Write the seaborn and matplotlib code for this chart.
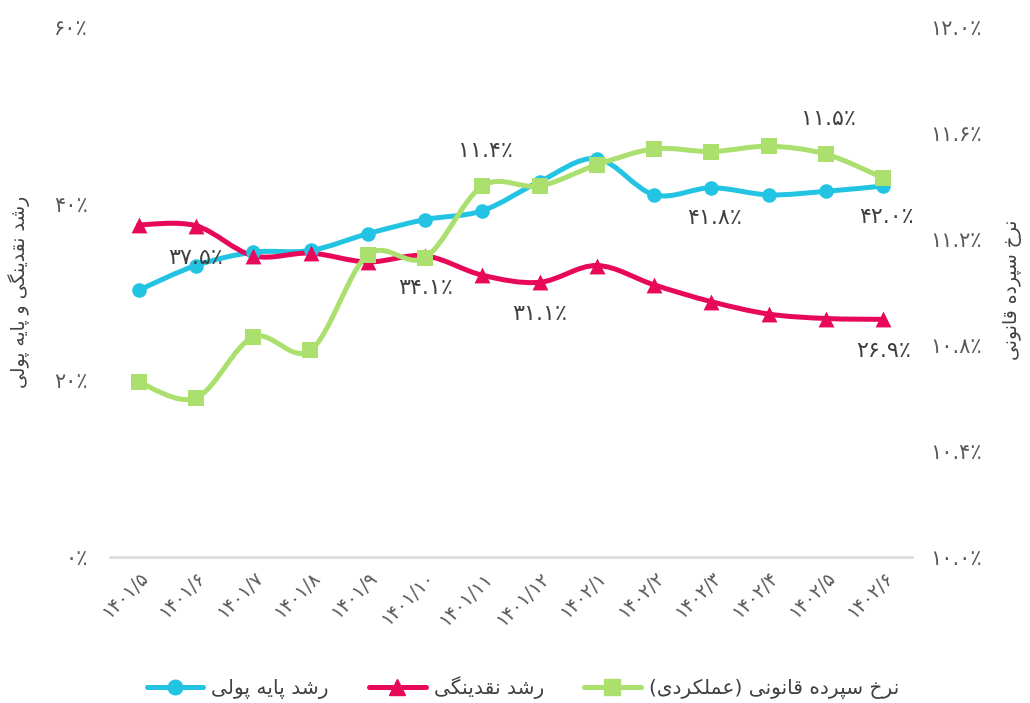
import numpy as np
import matplotlib
matplotlib.use("Agg")
import matplotlib.pyplot as plt
import seaborn as sns
from matplotlib.path import Path
from matplotlib.patches import PathPatch
from matplotlib.lines import Line2D

# data
months = ["1401/5", "1401/6", "1401/7", "1401/8", "1401/9", "1401/10", "1401/11",
          "1401/12", "1402/1", "1402/2", "1402/3", "1402/4", "1402/5", "1402/6"]
base_money = [30.2, 33.0, 34.5, 34.7, 36.6, 38.2, 39.2, 42.5, 45.1, 41.0, 41.8, 41.0, 41.4, 42.0]
liquidity = [37.6, 37.5, 34.1, 34.4, 33.4, 34.1, 31.9, 31.1, 33.0, 30.8, 28.9, 27.5, 27.0, 26.9]
reserve_rate = [10.66, 10.60, 10.83, 10.78, 11.14, 11.13, 11.40, 11.40, 11.48, 11.54, 11.53, 11.55, 11.52, 11.43]

# which points carry a data label
base_labels = [10, 13]
liq_labels = [1, 5, 7, 13]
reserve_labels = [6, 12]

name_base = "رشد پایه پولی"
name_liq = "رشد نقدینگی"
name_reserve = "نرخ سپرده قانونی (عملکردی)"
ylabel_left = "رشد نقدینگی و پایه پولی"
ylabel_right = "نرخ سپرده قانونی"

c_base = "#23C4E3"
c_liq = "#E8085A"
c_reserve = "#ABE06E"
text_c = "#404040"

# minimal persian shaping (matplotlib has no arabic text shaping)
FORMS = {
    "ا": ("\uFE8D", "\uFE8E", None, None),
    "د": ("\uFEA9", "\uFEAA", None, None),
    "ر": ("\uFEAD", "\uFEAE", None, None),
    "و": ("\uFEED", "\uFEEE", None, None),
    "پ": ("\uFB56", "\uFB57", "\uFB58", "\uFB59"),
    "خ": ("\uFEA5", "\uFEA6", "\uFEA7", "\uFEA8"),
    "س": ("\uFEB1", "\uFEB2", "\uFEB3", "\uFEB4"),
    "ش": ("\uFEB5", "\uFEB6", "\uFEB7", "\uFEB8"),
    "ع": ("\uFEC9", "\uFECA", "\uFECB", "\uFECC"),
    "ق": ("\uFED5", "\uFED6", "\uFED7", "\uFED8"),
    "ک": ("\uFB8E", "\uFB8F", "\uFB90", "\uFB91"),
    "گ": ("\uFB92", "\uFB93", "\uFB94", "\uFB95"),
    "ل": ("\uFEDD", "\uFEDE", "\uFEDF", "\uFEE0"),
    "م": ("\uFEE1", "\uFEE2", "\uFEE3", "\uFEE4"),
    "ن": ("\uFEE5", "\uFEE6", "\uFEE7", "\uFEE8"),
    "ه": ("\uFEE9", "\uFEEA", "\uFEEB", "\uFEEC"),
    "ی": ("\uFBFC", "\uFBFD", "\uFBFE", "\uFBFF"),
}


def fa(text):
    out = []
    for i, ch in enumerate(text):
        if ch not in FORMS:
            out.append(ch)
            continue
        prev = text[i - 1] if i > 0 else None
        nxt = text[i + 1] if i < len(text) - 1 else None
        join_prev = prev in FORMS and FORMS[prev][2] is not None
        join_next = nxt in FORMS and FORMS[ch][2] is not None
        iso, fin, ini, med = FORMS[ch]
        if join_prev and join_next:
            out.append(med)
        elif join_prev:
            out.append(fin)
        elif join_next:
            out.append(ini)
        else:
            out.append(iso)
    s = "".join(out)[::-1]
    return s.translate(str.maketrans("()", ")("))


DIGITS = str.maketrans("0123456789%", "۰۱۲۳۴۵۶۷۸۹٪")


def fa_num(s):
    return s.translate(DIGITS)


def smooth_path(x, y):
    pts = np.column_stack([x, y]).astype(float)
    n = len(pts)
    verts = [pts[0]]
    codes = [Path.MOVETO]
    for i in range(n - 1):
        p0 = pts[max(i - 1, 0)]
        p1 = pts[i]
        p2 = pts[i + 1]
        p3 = pts[min(i + 2, n - 1)]
        verts += [p1 + (p2 - p0) / 6, p2 - (p3 - p1) / 6, p2]
        codes += [Path.CURVE4] * 3
    return Path(verts, codes)


sns.set_style("white")
plt.rcParams["font.family"] = ["DejaVu Sans"]

fig = plt.figure(figsize=(10.3, 7.03), dpi=100)
ax = fig.add_axes([110 / 1030, 1 - 557 / 703, 802 / 1030, 530 / 703])
ax2 = ax.twinx()

idx = np.arange(len(months))
lw = 3.6

for vals, color, mk, sz, axis in [
    (base_money, c_base, "o", 110, ax),
    (liquidity, c_liq, "^", 130, ax),
    (reserve_rate, c_reserve, "s", 120, ax2),
]:
    axis.add_patch(PathPatch(smooth_path(idx, vals), facecolor="none", edgecolor=color,
                             lw=lw, capstyle="round", joinstyle="round", zorder=2))
    sns.scatterplot(x=idx, y=vals, ax=axis, marker=mk, s=sz, color=color,
                    linewidth=0, zorder=3, legend=False)

ax.set_xlim(-0.5, len(months) - 0.5)
ax.set_ylim(0, 60)
ax.set_yticks([0, 20, 40, 60])
ax.set_yticklabels([fa_num(f"{v}%") for v in [0, 20, 40, 60]])
ax2.set_ylim(10, 12)
rt = [10.0, 10.4, 10.8, 11.2, 11.6, 12.0]
ax2.set_yticks(rt)
ax2.set_yticklabels([fa_num(f"{v:.1f}%") for v in rt])

ax.set_xticks(idx)
ax.set_xticklabels([fa_num(m) for m in months], rotation=45, ha="right", va="top",
                   rotation_mode="anchor")

ax.tick_params(axis="y", length=0, pad=16, labelsize=15, labelcolor="#595959")
ax.tick_params(axis="x", length=0, pad=8, labelsize=13.5, labelcolor="#595959")
ax2.tick_params(axis="y", length=0, pad=13, labelsize=15, labelcolor="#595959")

for s in ["top", "left", "right"]:
    ax.spines[s].set_visible(False)
    ax2.spines[s].set_visible(False)
ax2.spines["bottom"].set_visible(False)
ax.spines["bottom"].set_color("#d9d9d9")
ax.spines["bottom"].set_linewidth(1.8)
ax.grid(False)
ax2.grid(False)

# data labels
for i in base_labels:
    ax.annotate(fa_num(f"{base_money[i]:.1f}%"), (idx[i], base_money[i]), xytext=(2, -22),
                textcoords="offset points", ha="center", va="center", fontsize=16, color=text_c)
for i in liq_labels:
    ax.annotate(fa_num(f"{liquidity[i]:.1f}%"), (idx[i], liquidity[i]), xytext=(0, -23),
                textcoords="offset points", ha="center", va="center", fontsize=16, color=text_c)
for i in reserve_labels:
    ax2.annotate(fa_num(f"{reserve_rate[i]:.1f}%"), (idx[i], reserve_rate[i]), xytext=(2, 25),
                 textcoords="offset points", ha="center", va="center", fontsize=16, color=text_c)

fig.text(19 / 1030, 1 - 292 / 703, fa(ylabel_left), rotation=90, ha="center", va="center",
         fontsize=13.5, color=text_c)
fig.text(1013 / 1030, 1 - 290 / 703, fa(ylabel_right), rotation=90, ha="center", va="center",
         fontsize=13.5, color=text_c)

handles = [
    Line2D([0], [0], color=c_base, lw=lw, marker="o", markersize=10.5, solid_capstyle="round"),
    Line2D([0], [0], color=c_liq, lw=lw, marker="^", markersize=11.5, solid_capstyle="round"),
    Line2D([0], [0], color=c_reserve, lw=lw, marker="s", markersize=11, solid_capstyle="round"),
]
fig.legend(handles, [fa(name_base), fa(name_liq), fa(name_reserve)], loc="center",
           bbox_to_anchor=(523 / 1030, 1 - 688 / 703), ncol=3, frameon=False, fontsize=14.5,
           handlelength=2.8, handletextpad=0.4, columnspacing=2.0, labelcolor=text_c)

fig.savefig("out.png", dpi=100)
